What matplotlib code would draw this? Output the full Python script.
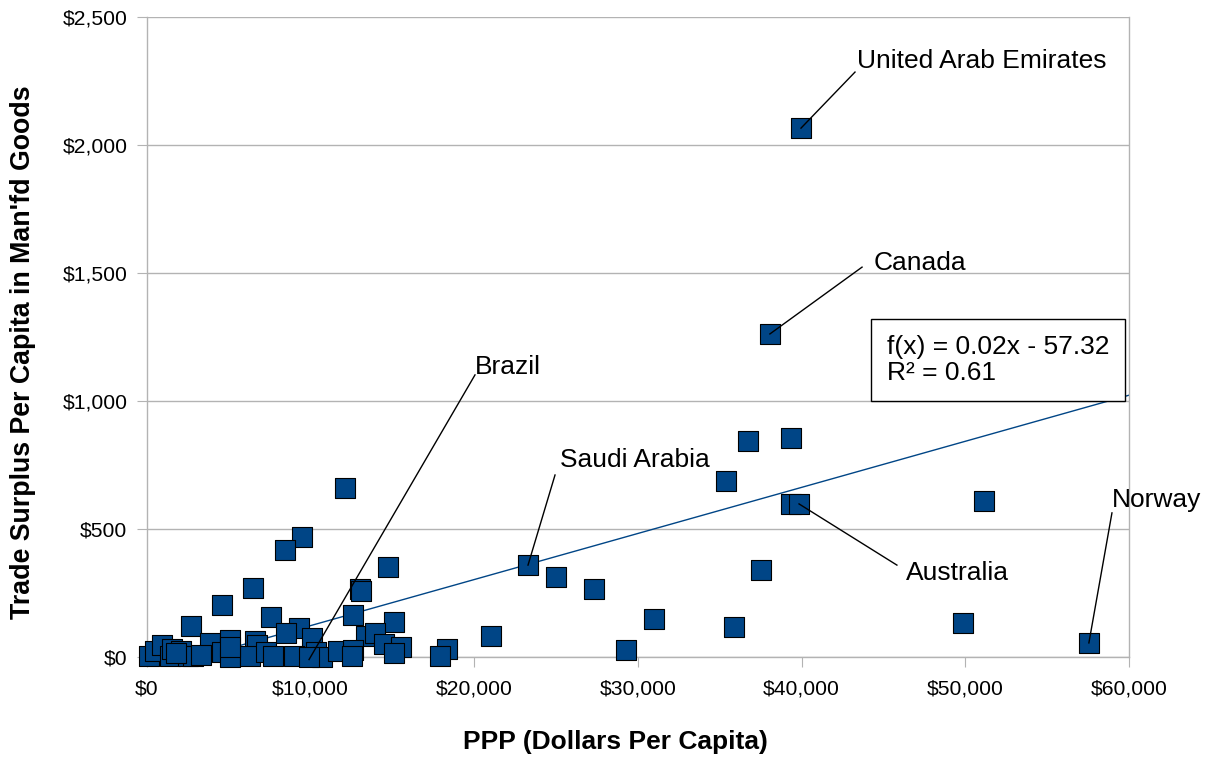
import matplotlib
matplotlib.use('Agg')
import matplotlib.pyplot as plt
import numpy as np
from matplotlib.ticker import FuncFormatter

plt.rcParams['font.family'] = ['Liberation Sans', 'DejaVu Sans']

# PPP (dollars per capita) and trade surplus per capita in manufactured goods
ppp = [39960, 38060, 36720, 39350, 35380, 39350, 39840, 51140, 37500, 35860,
       49860, 57550, 30980, 29270, 27310, 25020, 23280, 21020, 18330, 17900,
       15100, 12100, 9470, 8430, 14700, 6500, 13000, 13100, 4600, 12600,
       7600, 2700, 9300, 8500, 10100, 13400, 13900, 14500, 15500, 15100,
       3850, 5100, 4600, 5100, 6600, 6700, 6300, 7300, 7700, 9000,
       10300, 10700, 11700, 12600, 12500, 100, 500, 900, 1400, 1500,
       2100, 2500, 2800, 5100, 1800, 3300, 9900]
surplus = [2066, 1262, 844, 855, 688, 598, 598, 609, 340, 117,
           133, 55, 147, 27, 264, 311, 359, 82, 31, 4,
           137, 660, 470, 418, 352, 270, 266, 258, 203, 164,
           156, 121, 113, 94, 74, 82, 94, 51, 39, 16,
           55, 66, 20, 0, 62, 47, 4, 20, 4, 4,
           20, 0, 23, 27, 4, 4, 23, 47, 4, 31,
           23, 4, 4, 39, 15, 8, 0]

# linear trend shown in the chart
trend_slope = 0.018
trend_intercept = -57.32
trend_label = 'f(x) = 0.02x - 57.32\nR² = 0.61'

# labelled countries: name, point, line start, text anchor
labels = ['United Arab Emirates', 'Canada', 'Brazil', 'Saudi Arabia', 'Australia', 'Norway']
label_points = [(39960, 2066), (38060, 1262), (9900, -10), (23280, 359), (39840, 598), (57550, 55)]
label_line_start = [(43260, 2285), (43690, 1523), (20040, 1102), (24930, 711), (45820, 359), (58960, 563)]
label_text_pos = [(43380, 2328), (44420, 1539), (20040, 1133), (25230, 770), (46370, 328), (58960, 613)]

blue = '#004586'
grey = '#b3b3b3'

fig = plt.figure(figsize=(12.12, 7.57), dpi=100)
ax = fig.add_axes([0.1213, 0.1321, 0.8102, 0.8454])

xs = np.array([0, 60000])
ax.plot(xs, trend_slope * xs + trend_intercept, color=blue, lw=1, zorder=2)
ax.scatter(ppp, surplus, marker='s', s=190, color=blue, edgecolors='black',
           linewidths=0.8, zorder=3, clip_on=False)

for name, pt, st, tp in zip(labels, label_points, label_line_start, label_text_pos):
    ax.plot([st[0], pt[0]], [st[1], pt[1]], color='black', lw=1, zorder=4, clip_on=False)
    ax.text(tp[0], tp[1], name, fontsize=19, ha='left', va='center', zorder=5)

ax.text(45210, 1160, trend_label, fontsize=19, ha='left', va='center', linespacing=1.1,
        bbox=dict(boxstyle='square,pad=0.6', fc='white', ec='black', lw=1), zorder=5)

ax.set_xlim(0, 60000)
ax.set_ylim(0, 2500)
ax.set_xticks(np.arange(0, 60001, 10000))
ax.set_yticks(np.arange(0, 2501, 500))
ax.xaxis.set_major_formatter(FuncFormatter(lambda v, p: '${:,.0f}'.format(v)))
ax.yaxis.set_major_formatter(FuncFormatter(lambda v, p: '${:,.0f}'.format(v)))
ax.tick_params(axis='both', length=7.2, color=grey, labelsize=15.2)
ax.tick_params(axis='x', pad=9)
ax.tick_params(axis='y', pad=7)
ax.yaxis.grid(True, color=grey, lw=1)
ax.set_axisbelow(True)
for sp in ax.spines.values():
    sp.set_color(grey)
    sp.set_linewidth(1)
ax.spines['top'].set_visible(False)

ax.set_xlabel('PPP (Dollars Per Capita)', fontsize=19, fontweight='bold', va='center')
ax.xaxis.set_label_coords(0.477, -0.133)
ax.set_ylabel("Trade Surplus Per Capita in Man'fd Goods", fontsize=19.3, fontweight='bold', va='center')
ax.yaxis.set_label_coords(-0.126, 0.4766)

fig.savefig('out.png', dpi=100)
